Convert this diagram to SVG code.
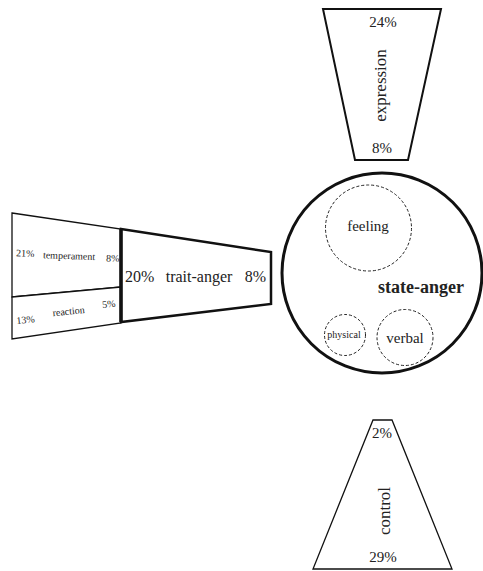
<svg xmlns="http://www.w3.org/2000/svg" width="483" height="571" viewBox="0 0 483 571">
<style>
text{font-family:"Liberation Serif","Times New Roman",serif;fill:#222}
.thin{fill:#fff;stroke:#111;stroke-width:1.3}
.mid{fill:#fff;stroke:#111;stroke-width:2}
.dash{fill:#fff;stroke:#222;stroke-width:1;stroke-dasharray:3 2}
.c{text-anchor:middle}
</style>
<rect width="483" height="571" fill="#fff"/>
<g id="expression">
<polygon class="mid" points="323,9 441,9 408,160 355,160"/>
<text class="c" x="383" y="27" font-size="15">24%</text>
<text class="c" transform="translate(386,85.5) rotate(-90)" font-size="17">expression</text>
<text class="c" x="382" y="153" font-size="15">8%</text>
</g>
<g id="temperament">
<polygon class="thin" points="12,213 121,229 121,287 12,297"/>
<g transform="rotate(2 65 259)" font-size="10">
<text x="16" y="258">21%</text>
<text class="c" x="69" y="259">temperament</text>
<text x="106" y="260">8%</text>
</g>
</g>
<g id="reaction">
<polygon class="thin" points="12,297 121,287 121,323 12,339"/>
<g transform="rotate(-6 65 315)" font-size="10">
<text x="16" y="319">13%</text>
<text class="c" x="69" y="315">reaction</text>
<text x="103" y="312">5%</text>
</g>
</g>
<g id="trait-anger">
<polygon fill="#fff" stroke="#111" stroke-width="2.5" points="121,229 271,252 271,304 121,322"/>
<line x1="121" y1="229" x2="121" y2="322" stroke="#111" stroke-width="3.5"/>
<text x="125" y="282" font-size="16">20%</text>
<text class="c" x="199" y="282" font-size="16">trait-anger</text>
<text text-anchor="end" x="266" y="282" font-size="16">8%</text>
</g>
<g id="state-anger">
<circle cx="382" cy="273" r="100" fill="#fff" stroke="#111" stroke-width="3"/>
<text class="c" x="421" y="293" font-size="18" font-weight="bold">state-anger</text>
</g>
<g id="feeling">
<circle class="dash" cx="368.5" cy="228" r="43"/>
<text class="c" x="368" y="231" font-size="15">feeling</text>
</g>
<g id="physical">
<circle class="dash" cx="345" cy="335" r="20.5"/>
<text class="c" x="344" y="338" font-size="10">physical</text>
</g>
<g id="verbal">
<circle class="dash" cx="405" cy="337.5" r="28"/>
<text class="c" x="405" y="343" font-size="15">verbal</text>
</g>
<g id="control">
<polygon class="thin" points="373,420 392,420 452,569 313,569"/>
<text class="c" x="382" y="438" font-size="15">2%</text>
<text class="c" transform="translate(390,511) rotate(-90)" font-size="17">control</text>
<text class="c" x="383" y="562" font-size="15">29%</text>
</g>
<g id="connectors"></g>
</svg>
